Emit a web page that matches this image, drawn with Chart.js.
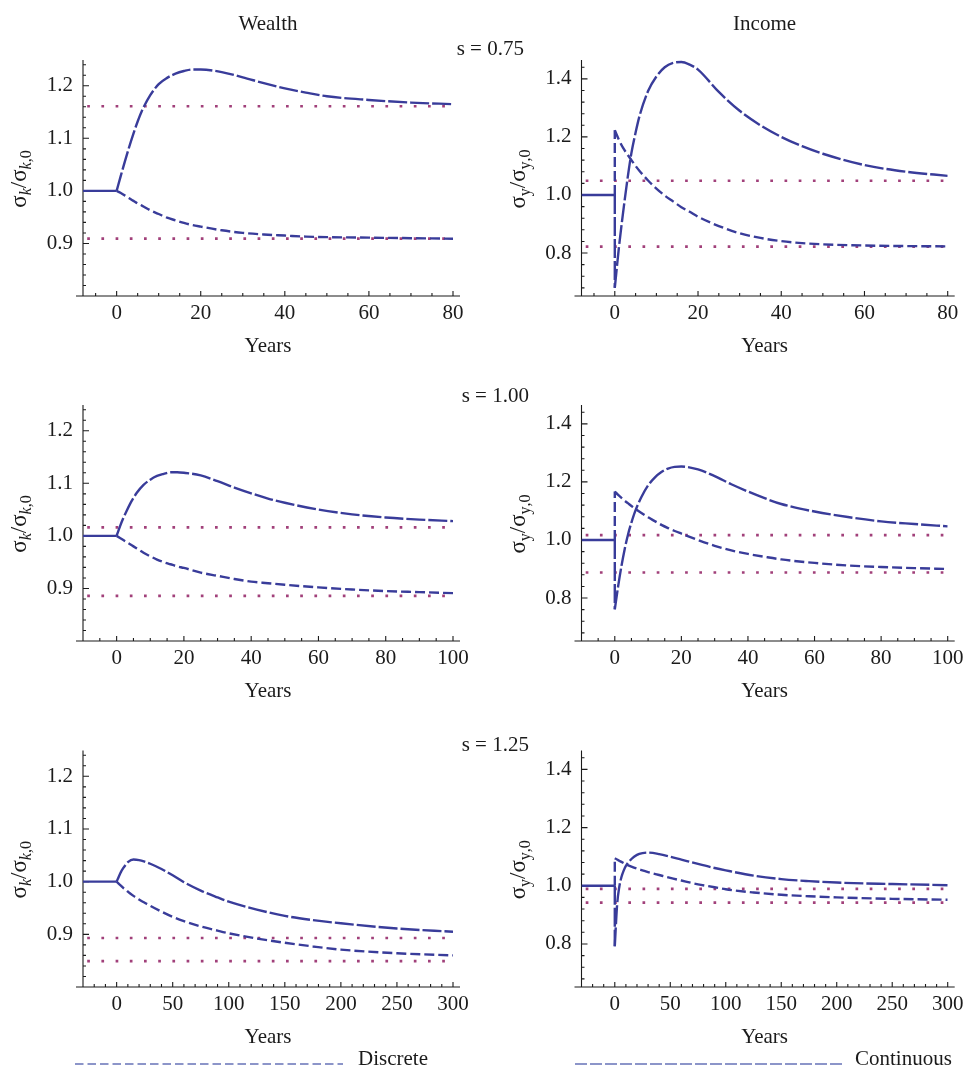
<!DOCTYPE html>
<html>
<head>
<meta charset="utf-8">
<title>Wealth and income dispersion after the shock</title>
<script src="https://cdn.jsdelivr.net/npm/chart.js@4.4.1/dist/chart.umd.min.js"></script>
<style>
  html, body { margin: 0; padding: 0; background: #fff; }
  body { position: relative; width: 964px; height: 1068px; overflow: hidden; }
  canvas { position: absolute; }
</style>
</head>
<body>
<canvas id="w075" width="480" height="359" style="left:0;top:0"></canvas>
<canvas id="y075" width="524" height="359" style="left:440px;top:0"></canvas>
<canvas id="w100" width="480" height="345" style="left:0;top:359px"></canvas>
<canvas id="y100" width="524" height="345" style="left:440px;top:359px"></canvas>
<canvas id="w125" width="480" height="364" style="left:0;top:704px"></canvas>
<canvas id="y125" width="524" height="364" style="left:440px;top:704px"></canvas>
<script>
const serif = '"Liberation Serif", "Times New Roman", Times, serif';
const BLUE = '#393c9a';
const DOT = '#a1407a';
const LEGEND_BLUE = '#8c95c9';
const INK = '#1b1b1b';

// ---- values ----
// s = 0.75
const years075 = [0, 1, 2, 3, 4, 5, 6, 8, 10, 12, 14, 16, 18, 20, 25, 30, 35, 40, 45, 50, 60, 70, 80];
const wealthDiscrete075 = [1.000, 0.996, 0.991, 0.986, 0.981, 0.976, 0.972, 0.963, 0.956, 0.949, 0.944, 0.939, 0.935, 0.932, 0.925, 0.920, 0.917, 0.915, 0.913, 0.912, 0.911, 0.910, 0.909];
const wealthContinuous075 = [1.000, 1.029, 1.057, 1.084, 1.109, 1.132, 1.152, 1.182, 1.203, 1.215, 1.223, 1.228, 1.231, 1.231, 1.226, 1.216, 1.205, 1.195, 1.187, 1.180, 1.173, 1.168, 1.165];
const incomeDiscrete075 = [1.223, 1.190, 1.162, 1.140, 1.120, 1.100, 1.082, 1.050, 1.022, 0.998, 0.978, 0.958, 0.942, 0.925, 0.893, 0.868, 0.852, 0.841, 0.834, 0.830, 0.826, 0.824, 0.823];
const incomeContinuous075 = [0.680, 0.820, 0.940, 1.050, 1.145, 1.215, 1.275, 1.358, 1.408, 1.440, 1.455, 1.458, 1.449, 1.432, 1.355, 1.290, 1.240, 1.200, 1.168, 1.142, 1.103, 1.080, 1.066];
const wealthSteady075 = [1.161, 0.909];
const incomeSteady075 = [1.049, 0.822];

// s = 1.00
const years100 = [0, 1, 2, 3, 4, 5, 6, 8, 10, 12, 14, 16, 18, 20, 25, 30, 35, 40, 45, 50, 60, 70, 80, 90, 100];
const wealthDiscrete100 = [1.000, 0.996, 0.992, 0.988, 0.984, 0.980, 0.976, 0.968, 0.961, 0.955, 0.950, 0.946, 0.942, 0.939, 0.930, 0.924, 0.918, 0.913, 0.910, 0.907, 0.902, 0.898, 0.895, 0.893, 0.891];
const wealthContinuous100 = [1.000, 1.018, 1.034, 1.048, 1.061, 1.072, 1.082, 1.097, 1.107, 1.114, 1.118, 1.121, 1.121, 1.120, 1.115, 1.104, 1.092, 1.081, 1.071, 1.063, 1.050, 1.041, 1.035, 1.031, 1.028];
const incomeDiscrete100 = [1.167, 1.155, 1.145, 1.135, 1.126, 1.117, 1.109, 1.093, 1.078, 1.065, 1.052, 1.041, 1.031, 1.022, 1.000, 0.980, 0.964, 0.952, 0.942, 0.933, 0.921, 0.912, 0.907, 0.903, 0.900];
const incomeContinuous100 = [0.761, 0.840, 0.910, 0.970, 1.020, 1.060, 1.095, 1.148, 1.188, 1.215, 1.234, 1.246, 1.252, 1.253, 1.243, 1.220, 1.192, 1.167, 1.144, 1.124, 1.098, 1.079, 1.064, 1.055, 1.047];
const wealthSteady100 = [1.016, 0.886];
const incomeSteady100 = [1.017, 0.888];

// s = 1.25
const years125 = [0, 2, 4, 6, 8, 10, 15, 20, 25, 30, 40, 50, 60, 75, 90, 100, 125, 150, 175, 200, 250, 300];
const wealthDiscrete125 = [1.000, 0.996, 0.992, 0.988, 0.985, 0.981, 0.973, 0.966, 0.960, 0.954, 0.943, 0.933, 0.925, 0.915, 0.907, 0.902, 0.892, 0.884, 0.877, 0.871, 0.864, 0.860];
const wealthContinuous125 = [1.000, 1.010, 1.019, 1.026, 1.032, 1.037, 1.042, 1.041, 1.038, 1.034, 1.024, 1.012, 0.999, 0.983, 0.970, 0.962, 0.947, 0.935, 0.927, 0.921, 0.911, 0.905];
const incomeDiscrete125 = [1.095, 1.090, 1.086, 1.082, 1.078, 1.074, 1.066, 1.059, 1.053, 1.047, 1.037, 1.027, 1.018, 1.005, 0.995, 0.988, 0.977, 0.969, 0.964, 0.960, 0.955, 0.952];
const incomeContinuous125 = [0.792, 0.930, 0.995, 1.030, 1.052, 1.068, 1.092, 1.106, 1.112, 1.114, 1.109, 1.100, 1.090, 1.075, 1.061, 1.053, 1.035, 1.023, 1.016, 1.011, 1.006, 1.002];
const wealthSteady125 = [0.893, 0.849];
const incomeSteady125 = [0.989, 0.942];

// axes
const wealthTicks = [0.9, 1.0, 1.1, 1.2];
const incomeTicks = [0.8, 1.0, 1.2, 1.4];
const yearTicks075 = [0, 20, 40, 60, 80];
const yearTicks100 = [0, 20, 40, 60, 80, 100];
const yearTicks125 = [0, 50, 100, 150, 200, 250, 300];
const wealthRange = [0.8, 1.249];
const incomeRange = [0.652, 1.465];

// ---- drawing ----
const DISCRETE_DASH = [10, 4];
const CONT_DASH = [19, 3];
const COLS = {
  left: { padL: 45.5, padR: 27, yWidth: 37.5 },
  right: { padL: 81.5, padR: 16.3, yWidth: 60 }
};

const steps = (min, max, step) => {
  const out = [];
  for (let k = Math.ceil(min / step - 1e-9); k * step <= max + 1e-9; k++) out.push(+(k * step).toFixed(6));
  return out;
};
const isMajor = (list, v) => list.some(t => Math.abs(t - v) < 1e-9);

// sigma ratio label, e.g. σk/σk,0, rotated along the y axis
function drawRatioLabel(ctx, cx, cy, sub, italicSub) {
  const big = `23px ${serif}`;
  const small = `${italicSub ? 'italic ' : ''}16px ${serif}`;
  const pieces = [
    { t: 'σ', f: big, dy: 0 }, { t: sub, f: small, dy: 5 },
    { t: '/', f: big, dy: 0 },
    { t: 'σ', f: big, dy: 0 }, { t: sub, f: small, dy: 5 }, { t: ',0', f: `16px ${serif}`, dy: 5 }
  ];
  ctx.save();
  ctx.translate(cx, cy);
  ctx.rotate(-Math.PI / 2);
  let w = 0;
  pieces.forEach(p => { ctx.font = p.f; p.w = ctx.measureText(p.t).width; w += p.w; });
  let x = -w / 2;
  ctx.textAlign = 'left';
  ctx.textBaseline = 'alphabetic';
  pieces.forEach(p => { ctx.font = p.f; ctx.fillText(p.t, x, p.dy); x += p.w; });
  ctx.restore();
}

// Mathematica style axes: ticks pointing inwards, minor ticks, extra labels
const mmaAxes = {
  id: 'mmaAxes',
  beforeDatasetsDraw(chart, args, o) {
    const { ctx, chartArea: a, scales: { x, y } } = chart;
    ctx.save();
    ctx.strokeStyle = INK;
    ctx.lineWidth = 1.1;
    ctx.beginPath();
    ctx.moveTo(a.left - 7, a.bottom); ctx.lineTo(a.right + 7, a.bottom);
    ctx.moveTo(a.left, a.bottom); ctx.lineTo(a.left, a.top);
    steps(x.min, x.max, o.xMinor).forEach(v => {
      if (v <= x.min + 1e-9) return;
      const px = x.getPixelForValue(v);
      ctx.moveTo(px, a.bottom); ctx.lineTo(px, a.bottom - (isMajor(o.xTicks, v) ? 5 : 3));
    });
    steps(y.min, y.max, o.yMinor).forEach(v => {
      if (v <= y.min + 1e-9) return;
      const py = y.getPixelForValue(v);
      ctx.moveTo(a.left, py); ctx.lineTo(a.left + (isMajor(o.yTicks, v) ? 6 : 3), py);
    });
    ctx.stroke();
    ctx.restore();
  },
  afterDraw(chart, args, o) {
    const { ctx, chartArea: a } = chart;
    ctx.save();
    ctx.fillStyle = INK;
    drawRatioLabel(ctx, a.left - 57, (a.top + a.bottom) / 2 + 1, o.sub, o.italicSub);
    ctx.font = `21px ${serif}`;
    ctx.textBaseline = 'alphabetic';
    if (o.title) {
      ctx.textAlign = 'center';
      ctx.fillText(o.title, (a.left + a.right) / 2, 29.5);
    }
    if (o.sLabel) {
      ctx.textAlign = 'left';
      ctx.fillText(o.sLabel, o.sPos[0], o.sPos[1]);
    }
    // legend sample under the bottom row
    if (o.legend) {
      const lg = o.legend;
      ctx.strokeStyle = LEGEND_BLUE;
      ctx.lineWidth = 2;
      ctx.setLineDash(lg.dash);
      ctx.beginPath();
      ctx.moveTo(lg.from, lg.y); ctx.lineTo(lg.to, lg.y);
      ctx.stroke();
      ctx.setLineDash([]);
      ctx.textAlign = 'left';
      ctx.fillText(lg.text, lg.textX, lg.y + 1);
    }
    ctx.restore();
  }
};

const pts = (xs, ys) => xs.map((x, i) => ({ x, y: ys[i] }));

const curve = (label, xs, ys, dash) => ({
  label, data: pts(xs, ys), borderColor: BLUE, borderWidth: 2.4, borderDash: dash,
  cubicInterpolationMode: 'monotone'
});

function makePanel(id, p) {
  const col = COLS[p.col];
  const [xMin, xMax] = p.xRange;
  const datasets = [
    curve('Discrete', p.years, p.discrete, DISCRETE_DASH),
    curve('Continuous', p.years, p.continuous, CONT_DASH),
    { label: 'before shock', data: [{ x: xMin, y: 1 }, { x: 0, y: 1 }], borderColor: BLUE, borderWidth: 2.4 }
  ];
  // jump on impact (income only)
  if (p.discrete[0] !== 1) datasets.push({ label: 'Discrete jump', data: [{ x: 0, y: 1 }, { x: 0, y: p.discrete[0] }], borderColor: BLUE, borderWidth: 2.4, borderDash: DISCRETE_DASH });
  if (p.continuous[0] !== 1) datasets.push({ label: 'Continuous jump', data: [{ x: 0, y: 1 }, { x: 0, y: p.continuous[0] }], borderColor: BLUE, borderWidth: 2.4, borderDash: CONT_DASH });
  // steady states
  p.steady.forEach(v => datasets.push({
    label: 'steady state', data: [{ x: xMin, y: v }, { x: xMax, y: v }],
    borderColor: DOT, borderWidth: 2.7, borderDash: [2.7, 11.5], borderDashOffset: 10
  }));

  return new Chart(document.getElementById(id), {
    type: 'line',
    data: { datasets },
    options: {
      responsive: false,
      animation: false,
      events: [],
      layout: { padding: { top: p.padTop, left: col.padL, right: col.padR, bottom: p.padBottom || 0 } },
      elements: { point: { radius: 0 }, line: { borderJoinStyle: 'round' } },
      plugins: {
        legend: { display: false },
        tooltip: { enabled: false },
        mmaAxes: {
          xTicks: p.xTicks, xMinor: p.xMinor, yTicks: p.yTicks, yMinor: p.yMinor,
          sub: p.sub, italicSub: p.italicSub, title: p.title, sLabel: p.sLabel, sPos: p.sPos,
          legend: p.legend
        }
      },
      scales: {
        x: {
          type: 'linear', min: xMin, max: xMax,
          grid: { display: false, drawTicks: false }, border: { display: false },
          ticks: { padding: 5, color: INK, font: { family: serif, size: 21 }, autoSkip: false, maxRotation: 0, callback: v => String(v) },
          afterBuildTicks: s => { s.ticks = p.xTicks.map(v => ({ value: v })); },
          afterFit: s => { s.height = 63; s.paddingLeft = 0; s.paddingRight = 0; },
          title: { display: true, text: 'Years', color: INK, font: { family: serif, size: 21 }, padding: 0 }
        },
        y: {
          type: 'linear', min: p.yRange[0], max: p.yRange[1],
          grid: { display: false, drawTicks: false }, border: { display: false },
          ticks: { padding: 10, color: INK, font: { family: serif, size: 21 }, autoSkip: false, callback: v => v.toFixed(1) },
          afterBuildTicks: s => { s.ticks = p.yTicks.map(v => ({ value: v })); },
          afterFit: s => { s.width = col.yWidth; s.paddingTop = 0; s.paddingBottom = 0; }
        }
      }
    },
    plugins: [mmaAxes]
  });
}

const wealthAxis = { yTicks: wealthTicks, yMinor: 0.02, yRange: wealthRange, sub: 'k', italicSub: true, col: 'left' };
const incomeAxis = { yTicks: incomeTicks, yMinor: 0.04, yRange: incomeRange, sub: 'y', italicSub: false, col: 'right' };
const row075 = { years: years075, xRange: [-8, 80], xTicks: yearTicks075, xMinor: 5, padTop: 60 };
const row100 = { years: years100, xRange: [-10, 100], xTicks: yearTicks100, xMinor: 5, padTop: 46 };
const row125 = { years: years125, xRange: [-30, 300], xTicks: yearTicks125, xMinor: 10, padTop: 46.5, padBottom: 18 };

makePanel('w075', { ...row075, ...wealthAxis, discrete: wealthDiscrete075, continuous: wealthContinuous075, steady: wealthSteady075, title: 'Wealth' });
makePanel('y075', { ...row075, ...incomeAxis, discrete: incomeDiscrete075, continuous: incomeContinuous075, steady: incomeSteady075, title: 'Income', sLabel: 's = 0.75', sPos: [16.7, 55] });
makePanel('w100', { ...row100, ...wealthAxis, discrete: wealthDiscrete100, continuous: wealthContinuous100, steady: wealthSteady100 });
makePanel('y100', { ...row100, ...incomeAxis, discrete: incomeDiscrete100, continuous: incomeContinuous100, steady: incomeSteady100, sLabel: 's = 1.00', sPos: [21.7, 43.3] });
makePanel('w125', { ...row125, ...wealthAxis, discrete: wealthDiscrete125, continuous: wealthContinuous125, steady: wealthSteady125,
  legend: { text: 'Discrete', dash: [8.5, 4], from: 75, to: 343, textX: 358, y: 360 } });
makePanel('y125', { ...row125, ...incomeAxis, discrete: incomeDiscrete125, continuous: incomeContinuous125, steady: incomeSteady125, sLabel: 's = 1.25', sPos: [21.7, 46.7],
  legend: { text: 'Continuous', dash: [12, 3], from: 135, to: 403, textX: 415, y: 360 } });
</script>
</body>
</html>
